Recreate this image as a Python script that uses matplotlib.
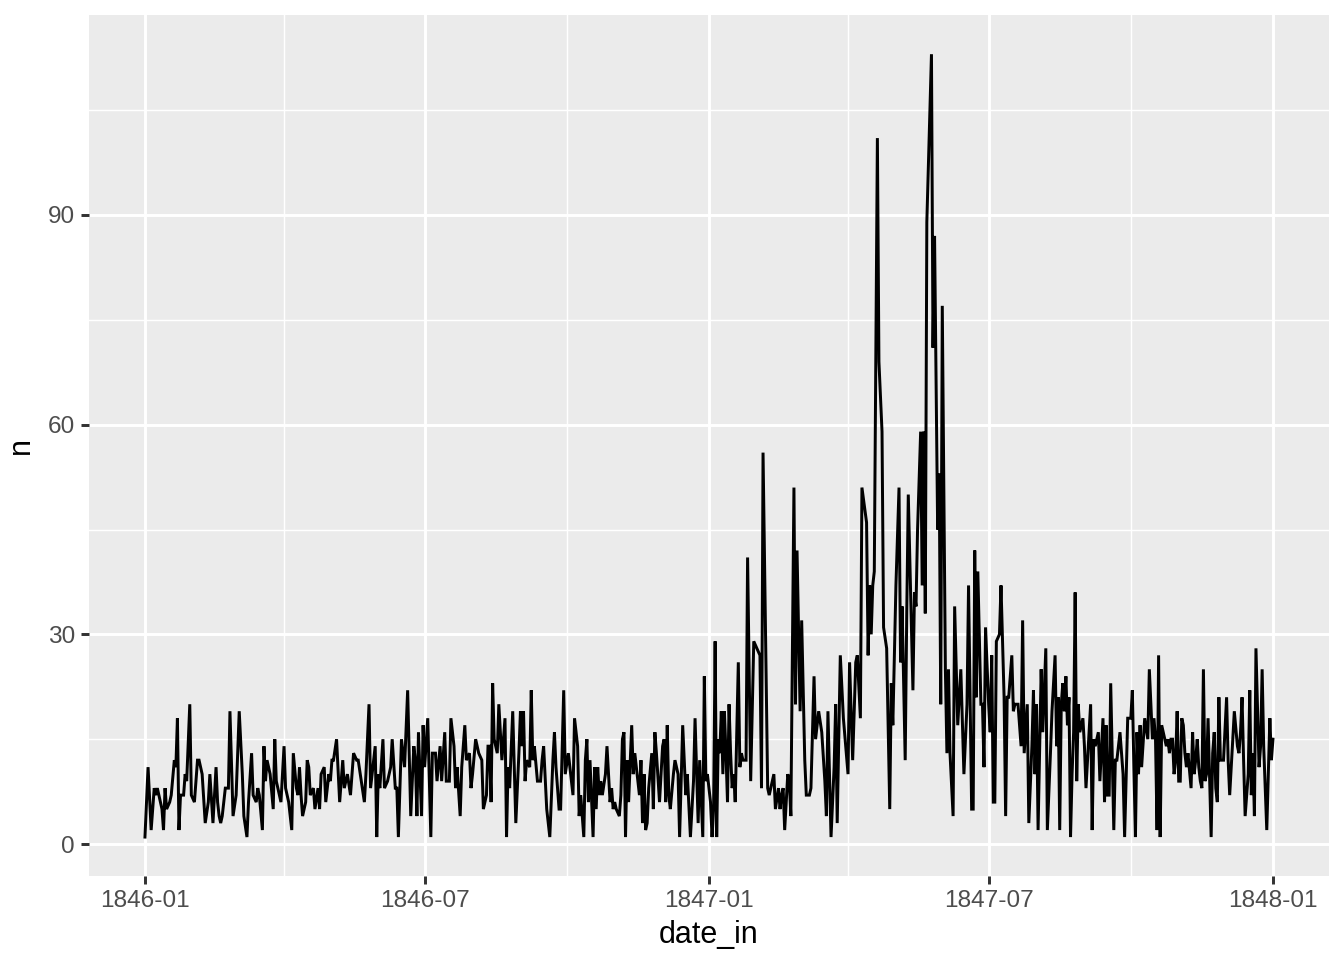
import numpy as np
import matplotlib.pyplot as plt
import matplotlib.dates as mdates
from matplotlib.ticker import MultipleLocator

plt.rcParams['font.family'] = ['Liberation Sans', 'DejaVu Sans']

# days counted from 1846-01-01
start = np.datetime64('1846-01-01')
day_offset = [
    0, 2, 4, 6, 7, 8, 11, 12, 13, 14, 16, 17, 19, 20, 21, 22, 23, 25, 26, 27,
    29, 30, 32, 34, 35, 37, 39, 41, 42, 44, 46, 47, 48, 49, 50, 52, 54, 55, 57, 59,
    61, 63, 64, 66, 67, 69, 70,
    72, 73, 74, 76, 77, 78, 79, 81, 83, 84, 85, 87, 88, 90, 91, 93, 95, 96, 98, 99,
    100, 101, 102, 104, 105, 106, 107, 109, 110, 112, 113, 114, 116, 117, 119, 120,
    121, 122, 124, 126, 128, 129, 131, 133, 135, 137, 138, 140, 142, 143,
    145, 146, 147, 149, 150, 151, 152, 154, 155, 157, 159, 160, 162, 163, 164, 166,
    168, 170, 172, 174, 175, 176, 177, 179, 180, 181, 183, 185, 186, 188, 189, 191,
    192, 194, 195, 197, 198, 200, 201, 202, 204, 205, 207, 208, 210, 211, 212, 214, 216,
    218, 219, 221, 222, 223, 224, 225, 226, 228, 229, 231, 232, 233, 234, 235, 236,
    238, 240, 242, 243, 244, 245, 246, 247, 249, 250, 251, 252, 254, 256, 257, 258,
    260, 262, 264, 265, 266, 268, 269, 271, 272, 274, 276, 277, 278, 280, 281, 282,
    284, 285, 286, 287, 288,
    290, 291, 292, 293, 294, 295, 296, 298, 299, 301, 302, 303, 304, 305, 307, 308,
    309, 310, 311, 312, 313, 315, 316, 317, 318, 320, 321, 322, 323, 324, 325, 326,
    328, 329, 330, 331, 333, 335, 336, 337, 338, 339, 340, 342, 343, 345, 346, 348,
    350, 351, 353, 355, 356, 358, 359, 361,
    362, 363, 364, 366, 367, 368, 369, 370, 371, 372, 373, 374, 375, 376, 377, 378,
    379, 380, 381, 382, 384, 385, 386, 387, 389, 390, 392, 394, 396, 398, 399, 400,
    403, 404, 406, 407, 408, 410, 411, 412, 413, 414, 416, 417, 418, 420, 421, 422,
    424, 425, 427, 428, 430, 431, 433,
    434, 436, 438, 440, 441, 442, 444, 446, 447, 448, 450, 452, 455, 456, 458, 460,
    461, 463, 464, 467, 468, 469, 470, 471, 472, 474, 475, 477, 478, 480, 482, 483,
    484, 486, 488, 489, 490, 492, 493, 494, 497, 498, 499, 500, 502, 503, 504, 505, 506,
    509, 510, 511, 513, 514, 515, 516, 518, 519, 520, 521, 523, 524, 526, 528, 530,
    532, 533, 535, 536, 537, 538, 539, 541, 542, 543, 544, 546, 547, 548, 549, 550,
    551, 553, 554, 556, 557, 558, 559, 561, 562, 563, 565, 567, 568, 569, 571, 572,
    574, 575, 576, 577, 578,
    580, 581, 583, 584, 586, 587, 589, 590, 591, 592, 593, 594, 595, 596, 597, 598,
    599, 600, 601, 602, 603, 604, 605, 607, 608, 609, 612, 613, 614, 615, 617, 618,
    620, 621, 622, 623, 624, 625, 627, 628, 629, 631, 633, 634, 636, 638, 639, 640,
    641, 642, 643, 644, 645, 647, 649, 650,
    652, 653, 654, 655, 656, 657, 658, 660, 661, 662, 663, 664, 665, 666, 667, 668,
    669, 670, 671, 672, 673, 674, 675, 677, 678, 679, 680, 681, 682, 683, 684, 685,
    686, 687, 688, 690, 691, 692, 693, 694, 695, 696, 698, 700, 701, 702, 704, 705,
    707, 708, 709, 710, 711, 712, 714, 715, 716, 717, 718, 719, 721, 722, 723, 724,
    726, 728, 729, 730,
]
n = [
    1, 11, 2, 8, 7, 8, 5, 2, 8, 5, 6, 7, 12, 11, 18, 2, 7, 7, 10, 9,
    20, 7, 6, 12, 12, 10, 3, 6, 10, 3, 11, 6, 4, 3, 4, 8, 8, 19, 4, 7,
    19, 10, 4, 1, 6, 13, 7,
    6, 8, 7, 2, 14, 9, 12, 10, 5, 15, 9, 7, 6, 14, 8, 6, 2, 13, 8, 7,
    11, 7, 4, 6, 12, 11, 7, 8, 5, 8, 5, 10, 11, 6, 10, 9,
    12, 12, 15, 6, 12, 8, 10, 7, 13, 12, 12, 9, 6, 10,
    20, 8, 10, 14, 1, 10, 8, 15, 8, 9, 11, 15, 8, 8, 1, 15,
    11, 22, 4, 14, 12, 4, 16, 4, 17, 11, 18, 1, 13, 13, 9, 14,
    9, 16, 9, 9, 18, 14, 8, 11, 4, 11, 17, 12, 13, 8, 10, 15, 13,
    12, 5, 7, 14, 14, 6, 23, 15, 13, 20, 12, 15, 18, 1, 11, 8,
    19, 3, 13, 19, 14, 19, 9, 12, 11, 22, 12, 14, 9, 9, 12, 14,
    5, 1, 12, 16, 11, 5, 5, 22, 10, 13, 9, 7, 18, 14, 4, 7,
    1, 12, 15, 6, 12,
    1, 11, 5, 11, 7, 9, 7, 10, 14, 6, 8, 5, 6, 5, 4, 7,
    15, 16, 1, 12, 6, 17, 10, 13, 11, 7, 12, 3, 10, 2, 3, 8,
    13, 5, 16, 13, 6, 14, 15, 6, 17, 7, 5, 10, 12, 10, 1, 17,
    7, 10, 1, 9, 18, 3, 12, 1,
    24, 9, 10, 6, 1, 5, 29, 1, 15, 13, 19, 10, 19, 13, 6, 20,
    13, 8, 10, 6, 26, 11, 13, 12, 12, 41, 9, 29, 28, 27, 8, 56,
    8, 7, 9, 10, 5, 8, 5, 7, 8, 2, 10, 9, 4, 51, 20, 42,
    19, 32, 12, 7, 7, 8, 24,
    15, 19, 16, 9, 4, 19, 1, 11, 20, 3, 27, 18, 10, 26, 12, 26,
    27, 18, 51, 46, 27, 37, 30, 37, 39, 101, 69, 59, 31, 28, 5, 23,
    17, 37, 51, 26, 34, 12, 33, 50, 22, 36, 34, 45, 59, 37, 59, 33, 89,
    113, 71, 87, 45, 53, 20, 77, 25, 13, 25, 13, 4, 34, 17, 25, 10,
    20, 37, 5, 5, 42, 21, 39, 20, 20, 11, 31, 20, 16, 27, 6, 6,
    29, 30, 37, 21, 4, 21, 21, 27, 19, 20, 20, 14, 32, 13, 20, 3,
    14, 22, 10, 20, 2,
    25, 16, 28, 2, 13, 19, 27, 14, 21, 2, 20, 23, 19, 24, 17, 21,
    1, 10, 16, 36, 9, 20, 16, 18, 14, 8, 20, 2, 15, 14, 16, 9,
    18, 6, 17, 7, 7, 23, 2, 12, 12, 16, 10, 1, 18, 18, 22, 11,
    1, 16, 10, 17, 11, 18, 15, 25,
    15, 18, 15, 2, 27, 1, 17, 15, 14, 15, 13, 15, 15, 10, 12, 19,
    9, 9, 18, 17, 13, 11, 13, 8, 16, 10, 12, 15, 11, 9, 8, 25,
    9, 10, 18, 1, 13, 16, 8, 6, 21, 12, 12, 21, 12, 7, 15, 19,
    14, 13, 16, 21, 12, 4, 10, 22, 7, 13, 4, 28, 11, 14, 25, 14,
    2, 18, 12, 15,
]

date_in = start + np.array(day_offset, dtype='timedelta64[D]')

fig = plt.figure(figsize=(6.72, 4.8), dpi=200)
ax = fig.add_axes([0.0659, 0.0873, 0.9232, 0.897])
ax.set_facecolor('#EBEBEB')

ax.plot(date_in, n, color='black', lw=1.07, solid_joinstyle='miter')
ax.margins(x=0.05, y=0.05)

ax.xaxis.set_major_locator(mdates.MonthLocator(bymonth=[1, 7]))
ax.xaxis.set_minor_locator(mdates.MonthLocator(bymonth=[4, 10]))
ax.xaxis.set_major_formatter(mdates.DateFormatter('%Y-%m'))
ax.yaxis.set_major_locator(MultipleLocator(30))
ax.yaxis.set_minor_locator(MultipleLocator(15))

ax.set_axisbelow(True)
ax.grid(which='major', color='white', lw=1.07)
ax.grid(which='minor', color='white', lw=0.53)
for s in ax.spines.values():
    s.set_visible(False)

ax.tick_params(which='major', length=2.75, width=1.07, color='#333333',
               labelcolor='#4D4D4D', labelsize=8.8, pad=2.2)
ax.tick_params(which='minor', length=0)

ax.set_xlabel('date_in', fontsize=11, labelpad=3)
ax.set_ylabel('n', fontsize=11, labelpad=4)

fig.savefig('out.png', dpi=200)
